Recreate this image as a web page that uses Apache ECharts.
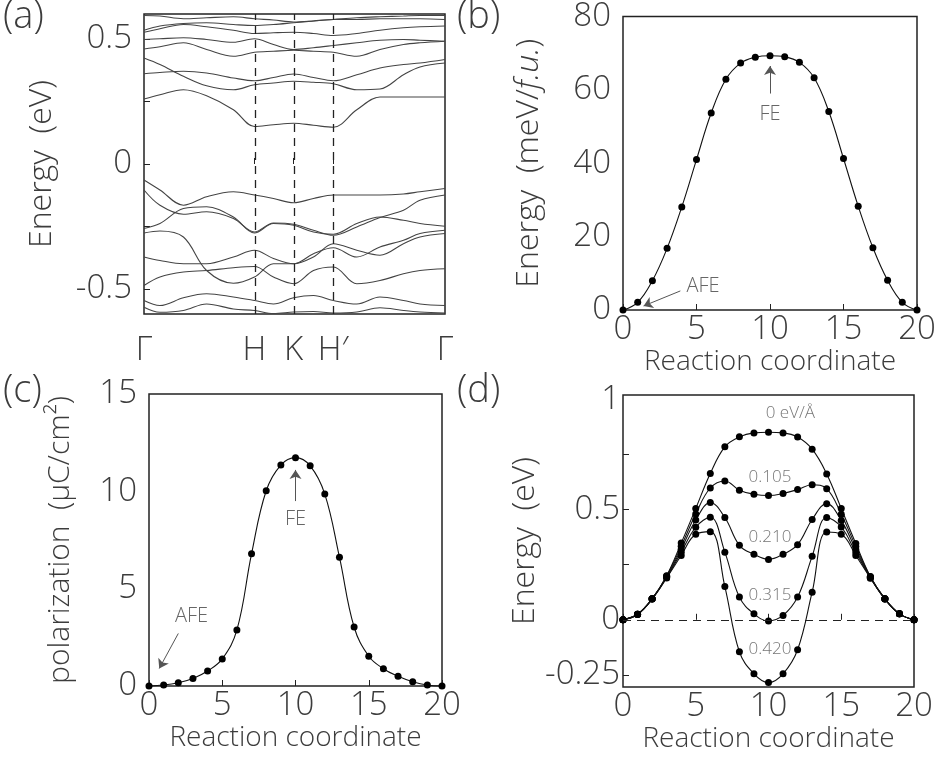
<!DOCTYPE html>
<html><head><meta charset="utf-8">
<script src="https://cdn.jsdelivr.net/npm/echarts@6/dist/echarts.min.js"></script>
<style>html,body{margin:0;padding:0;background:#fff}#c{width:939px;height:764px}</style>
</head><body><div id="c"></div>
<script>
// ---------- Panel (a): band structure ----------
const kLabels = ['Γ', 'H', 'K', 'H\u2032', 'Γ'];
const kLabelPos = [0, 0.367, 0.497, 0.629, 1];
const kGrid = [0, 0.053, 0.131, 0.208, 0.297, 0.367, 0.430, 0.497, 0.563, 0.629, 0.707, 0.784, 0.862, 0.917, 1.0];
const bandC1 = [0.260, 0.277, 0.297, 0.273, 0.217, 0.150, 0.157, 0.163, 0.155, 0.147, 0.217, 0.268, 0.268, 0.268, 0.268];
const bandC2 = [0.361, 0.366, 0.371, 0.364, 0.344, 0.333, 0.346, 0.360, 0.346, 0.333, 0.357, 0.384, 0.398, 0.404, 0.418];
const bandC3 = [0.424, 0.398, 0.351, 0.313, 0.297, 0.317, 0.324, 0.331, 0.327, 0.321, 0.297, 0.300, 0.357, 0.388, 0.404];
const bandC4 = [0.460, 0.469, 0.485, 0.458, 0.431, 0.447, 0.451, 0.455, 0.451, 0.447, 0.431, 0.458, 0.478, 0.485, 0.491];
const bandC5 = [0.498, 0.501, 0.505, 0.498, 0.487, 0.501, 0.478, 0.458, 0.465, 0.474, 0.485, 0.495, 0.498, 0.495, 0.491];
const bandC6 = [0.527, 0.541, 0.558, 0.549, 0.535, 0.522, 0.525, 0.527, 0.522, 0.514, 0.522, 0.535, 0.545, 0.549, 0.552];
const bandC7 = [0.535, 0.552, 0.562, 0.565, 0.558, 0.554, 0.558, 0.565, 0.572, 0.578, 0.578, 0.581, 0.581, 0.581, 0.578];
const bandC8 = [0.594, 0.592, 0.581, 0.585, 0.589, 0.581, 0.576, 0.568, 0.572, 0.578, 0.585, 0.589, 0.592, 0.594, 0.594];
const bandV1 = [-0.064, -0.104, -0.165, -0.131, -0.111, -0.124, -0.138, -0.155, -0.138, -0.124, -0.124, -0.124, -0.120, -0.111, -0.098];
const bandV2 = [-0.104, -0.165, -0.201, -0.191, -0.218, -0.272, -0.236, -0.241, -0.265, -0.285, -0.252, -0.214, -0.185, -0.145, -0.124];
const bandV3 = [-0.258, -0.238, -0.178, -0.171, -0.212, -0.276, -0.238, -0.245, -0.272, -0.281, -0.238, -0.212, -0.225, -0.238, -0.249];
const bandV4 = [-0.276, -0.268, -0.292, -0.426, -0.477, -0.452, -0.399, -0.399, -0.372, -0.319, -0.345, -0.365, -0.319, -0.292, -0.278];
const bandV5 = [-0.372, -0.386, -0.399, -0.399, -0.372, -0.345, -0.378, -0.399, -0.359, -0.335, -0.372, -0.332, -0.305, -0.278, -0.265];
const bandV6 = [-0.486, -0.452, -0.432, -0.426, -0.415, -0.410, -0.452, -0.479, -0.426, -0.412, -0.479, -0.466, -0.439, -0.426, -0.419];
const bandV7 = [-0.546, -0.566, -0.535, -0.519, -0.532, -0.546, -0.560, -0.535, -0.526, -0.546, -0.560, -0.532, -0.546, -0.560, -0.566];
const bandV8 = [-0.573, -0.593, -0.586, -0.560, -0.580, -0.586, -0.598, -0.592, -0.590, -0.596, -0.592, -0.575, -0.586, -0.592, -0.596];
const bands = [bandC1, bandC2, bandC3, bandC4, bandC5, bandC6, bandC7, bandC8, bandV1, bandV2, bandV3, bandV4, bandV5, bandV6, bandV7, bandV8];

// ---------- Panels (b), (c), (d): reaction coordinate ----------
const reactionCoord = [0,1,2,3,4,5,6,7,8,9,10,11,12,13,14,15,16,17,18,19,20];
const energyMeV = [0, 2.1, 8.0, 16.8, 28.1, 41.0, 53.7, 62.9, 67.3, 68.9, 69.3, 69.0, 67.5, 63.3, 54.1, 41.3, 28.3, 17.0, 8.1, 2.1, 0];
const polarization = [0, 0.05, 0.17, 0.39, 0.77, 1.39, 2.88, 6.79, 10.03, 11.35, 11.73, 11.31, 9.86, 6.62, 3.03, 1.53, 0.89, 0.50, 0.22, 0.05, 0];
const fieldNames = ['0 eV/Å', '0.105', '0.210', '0.315', '0.420'];
const field0   = [0, 0.025, 0.095, 0.200, 0.348, 0.505, 0.664, 0.785, 0.830, 0.848, 0.851, 0.848, 0.829, 0.774, 0.662, 0.505, 0.346, 0.196, 0.095, 0.027, 0];
const field105 = [0, 0.025, 0.095, 0.198, 0.334, 0.480, 0.598, 0.630, 0.588, 0.570, 0.564, 0.573, 0.591, 0.613, 0.595, 0.479, 0.333, 0.195, 0.095, 0.027, 0];
const field210 = [0, 0.025, 0.095, 0.195, 0.320, 0.453, 0.532, 0.464, 0.338, 0.297, 0.274, 0.297, 0.341, 0.455, 0.527, 0.451, 0.319, 0.193, 0.095, 0.027, 0];
const field315 = [0, 0.025, 0.094, 0.192, 0.306, 0.420, 0.465, 0.307, 0.103, 0.027, -0.005, 0.020, 0.103, 0.288, 0.464, 0.421, 0.305, 0.191, 0.094, 0.027, 0];
const field420 = [0, 0.024, 0.094, 0.190, 0.292, 0.388, 0.400, 0.151, -0.145, -0.245, -0.285, -0.245, -0.136, 0.125, 0.398, 0.388, 0.292, 0.189, 0.094, 0.027, 0];
const fieldSeries = [field0, field105, field210, field315, field420];
const fieldLabelX = [11.5, 10.1, 10.1, 10.1, 10.1];
const fieldLabelY = [0.938, 0.647, 0.374, 0.110, -0.135];

const FONT = 'Open Sans';
const TXT = '#3c3c3c';
const pair = (xs, ys) => xs.map((x, i) => [x, ys[i]]);

const chart = echarts.init(document.getElementById('c'));

function gridDef(l, t, w, h) {
  return { left: l, top: t, width: w, height: h, show: true, borderColor: '#222', borderWidth: 1.5, backgroundColor: 'transparent', containLabel: false };
}
const labelStyle = { fontFamily: FONT, fontSize: 33, fontWeight: 300, color: TXT };
const nameStyle = { fontFamily: FONT, fontSize: 28, fontWeight: 300, color: TXT };
const yNameStyle = { fontFamily: FONT, fontSize: 32, fontWeight: 300, color: TXT };

function rxAxis(gi) {
  return {
    type: 'value', gridIndex: gi, min: 0, max: 20, interval: 5,
    axisLine: { show: false }, splitLine: { show: false },
    axisTick: { show: true, inside: true, length: 6, lineStyle: { color: '#222' } },
    axisLabel: { ...labelStyle, margin: 3 },
    name: 'Reaction coordinate', nameLocation: 'middle', nameGap: 38, nameTextStyle: nameStyle
  };
}

const annotStyle = { fontFamily: FONT, fontSize: 20, fontWeight: 300, color: '#666' };
function arrowLine(x1, y1, x2, y2) {
  return [{ coord: [x1, y1], symbol: 'none' }, { coord: [x2, y2], symbol: 'arrow' }];
}
function textPoint(x, y, txt, align) {
  return { coord: [x, y], value: txt, label: { formatter: txt, align: align || 'center' } };
}

const series = [];
bands.forEach((b, i) => {
  series.push({
    type: 'line', xAxisIndex: 0, yAxisIndex: 0, data: pair(kGrid, b), smooth: 0.35,
    showSymbol: false, lineStyle: { color: '#444', width: 1.1 }, silent: true, clip: true,
    markLine: i === 0 ? {
      silent: true, symbol: 'none', label: { show: false },
      lineStyle: { color: '#222', type: [8, 6], width: 1.3 },
      data: kLabelPos.slice(1, 4).map(v => ({ xAxis: v }))
    } : undefined
  });
});
series.push({
  type: 'line', xAxisIndex: 1, yAxisIndex: 1, data: pair(reactionCoord, energyMeV), smooth: 0.4,
  symbol: 'circle', symbolSize: 7, itemStyle: { color: '#000' }, lineStyle: { color: '#111', width: 1.1 }, clip: false,
  markLine: { silent: true, symbolSize: 9, lineStyle: { color: '#555', width: 1, type: 'solid' }, label: { show: false },
    data: [arrowLine(10, 59, 10, 66.5), arrowLine(3.9, 5.2, 1.4, 1.1)] },
  markPoint: { symbol: 'circle', symbolSize: 0, label: { show: true, ...annotStyle, position: 'inside' },
    data: [textPoint(10, 53.3, 'FE'), textPoint(5.45, 6.4, 'AFE')] }
});
series.push({
  type: 'line', xAxisIndex: 2, yAxisIndex: 2, data: pair(reactionCoord, polarization), smooth: 0.4,
  symbol: 'circle', symbolSize: 7, itemStyle: { color: '#000' }, lineStyle: { color: '#111', width: 1.1 }, clip: false,
  markLine: { silent: true, symbolSize: 9, lineStyle: { color: '#555', width: 1, type: 'solid' }, label: { show: false },
    data: [arrowLine(10, 9.5, 10, 11.1), arrowLine(2.0, 2.7, 0.7, 0.9)] },
  markPoint: { symbol: 'circle', symbolSize: 0, label: { show: true, ...annotStyle, position: 'inside' },
    data: [textPoint(10, 8.55, 'FE'), textPoint(2.9, 3.6, 'AFE')] }
});
fieldSeries.forEach((f, i) => {
  series.push({
    type: 'line', xAxisIndex: 3, yAxisIndex: 3, data: pair(reactionCoord, f), smooth: 0.4,
    symbol: 'circle', symbolSize: 7, itemStyle: { color: '#000' }, lineStyle: { color: '#111', width: 1.1 }, clip: false,
    markLine: i === 0 ? { silent: true, symbol: 'none', label: { show: false },
      lineStyle: { color: '#222', type: [8, 6], width: 1.2 }, data: [{ yAxis: 0 }] } : undefined,
    markPoint: { symbol: 'circle', symbolSize: 0,
      label: { show: true, fontFamily: FONT, fontSize: 17, fontWeight: 300, color: '#777', position: 'inside' },
      data: [textPoint(fieldLabelX[i], fieldLabelY[i], fieldNames[i])] }
  });
});

const option = {
  animation: false,
  backgroundColor: '#fff',
  grid: [gridDef(144, 14, 301, 300), gridDef(623, 16, 294, 294), gridDef(149, 394, 293, 292), gridDef(623, 395, 291, 292)],
  xAxis: [
    { type: 'value', gridIndex: 0, min: 0, max: 1,
      axisLine: { show: false }, splitLine: { show: false },
      axisTick: { show: true, inside: true, length: 6, customValues: kLabelPos.slice(1, 4), lineStyle: { color: '#222' } },
      axisLabel: { ...labelStyle, margin: 20, customValues: kLabelPos,
        formatter: v => { const i = kLabelPos.indexOf(v); return i >= 0 ? kLabels[i] : ''; } } },
    rxAxis(1), rxAxis(2), rxAxis(3)
  ],
  yAxis: [
    { type: 'value', gridIndex: 0, min: -0.6, max: 0.6,
      axisLine: { show: false }, splitLine: { show: false },
      axisTick: { show: true, inside: true, length: 6, customValues: [-0.5, -0.25, 0, 0.25, 0.5], lineStyle: { color: '#222' } },
      axisLabel: { ...labelStyle, margin: 12, customValues: [-0.5, 0, 0.5] },
      name: 'Energy  (eV)', nameLocation: 'middle', nameGap: 86, nameRotate: 90, nameTextStyle: yNameStyle },
    { type: 'value', gridIndex: 1, min: 0, max: 80, interval: 20,
      axisLine: { show: false }, splitLine: { show: false }, axisTick: { show: false },
      axisLabel: { ...labelStyle, margin: 12 },
      name: 'Energy  (meV/{i|f.u.})', nameLocation: 'middle', nameGap: 78, nameRotate: 90,
      nameTextStyle: { ...yNameStyle, rich: { i: { fontFamily: FONT, fontSize: 32, fontWeight: 300, color: TXT, fontStyle: 'italic' } } } },
    { type: 'value', gridIndex: 2, min: 0, max: 15, interval: 5,
      axisLine: { show: false }, splitLine: { show: false }, axisTick: { show: false },
      axisLabel: { ...labelStyle, margin: 12 },
      name: 'polarization  (μC/cm²)', nameLocation: 'middle', nameGap: 74, nameRotate: 90, nameTextStyle: { ...yNameStyle, fontSize: 30 } },
    { type: 'value', gridIndex: 3, min: -0.305, max: 1.02,
      axisLine: { show: false }, splitLine: { show: false },
      axisTick: { show: true, inside: true, length: 6, customValues: [-0.25, 0, 0.25, 0.5, 0.75], lineStyle: { color: '#222' } },
      axisLabel: { ...labelStyle, margin: 3, customValues: [-0.25, 0, 0.5, 1] },
      name: 'Energy  (eV)', nameLocation: 'middle', nameGap: 80, nameRotate: 90, nameTextStyle: yNameStyle }
  ],
  graphic: [
    { type: 'text', left: 3, top: -2, style: { text: '(a)', font: '300 38px "Open Sans"', fill: TXT } },
    { type: 'text', left: 457, top: -2, style: { text: '(b)', font: '300 38px "Open Sans"', fill: TXT } },
    { type: 'text', left: 3, top: 372, style: { text: '(c)', font: '300 38px "Open Sans"', fill: TXT } },
    { type: 'text', left: 457, top: 372, style: { text: '(d)', font: '300 38px "Open Sans"', fill: TXT } }
  ],
  series: series
};
chart.setOption(option);
</script></body></html>
